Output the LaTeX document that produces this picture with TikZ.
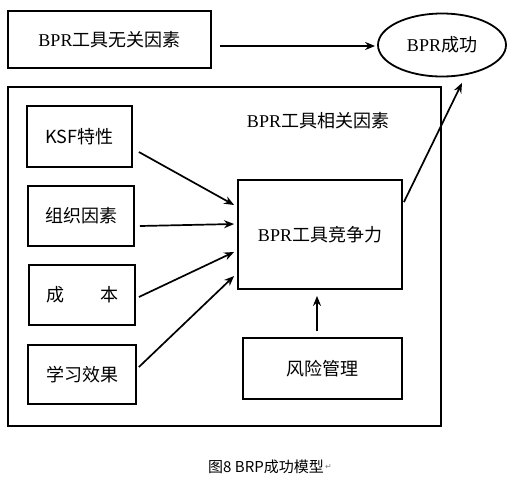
\documentclass[tikz,border=0pt]{standalone}
\usepackage{fontspec}
\setmainfont{Liberation Serif}
\newfontfamily\cjk{Noto Sans CJK SC}
\newfontfamily\symfont{DejaVu Sans}
\usetikzlibrary{positioning, arrows.meta, shapes.geometric}

\newcommand{\zh}[1]{{\cjk #1}}

\begin{document}
\begin{tikzpicture}[
        x=1pt, y=-1pt,
        box/.style={rectangle, draw, line width=1.8pt, inner sep=0pt, font=\fontsize{18}{20}\selectfont},
        goal/.style={ellipse, draw, line width=1.8pt, inner sep=0pt, font=\fontsize{18}{20}\selectfont},
        frame/.style={rectangle, draw, line width=1.6pt, inner sep=0pt},
        arr/.style={line width=1.7pt, -{Stealth[length=10pt,width=8pt]}},
    ]
    \useasboundingbox (0,0) rectangle (518,488);
    % TOP ROW
    \node[box, minimum width=203, minimum height=57] (free) at (109.5,39.5) {BPR\zh{工具无关因素}};
    \node[goal, minimum width=128, minimum height=63] (succ) at (442,45) {BPR\zh{成功}};
    % RELATED FACTORS
    \node[frame, minimum width=433, minimum height=339] (rel) at (224.5,256.5) {};
    \node[font=\fontsize{18}{20}\selectfont] (reltitle) at (318,121) {BPR\zh{工具相关因素}};
    \node[box, minimum width=105, minimum height=61] (ksf) at (79.5,136.5) {\zh{KSF特性}};
    \node[box, minimum width=106, minimum height=60] (org) at (81,216) {\zh{组织因素}};
    \node[box, minimum width=106, minimum height=60] (cost) at (82,295) {\zh{成\hspace{36pt}本}};
    \node[box, minimum width=108, minimum height=59] (learn) at (82,374.5) {\zh{学习效果}};
    \node[box, minimum width=164, minimum height=109] (comp) at (320,234.5) {BPR\zh{工具竞争力}};
    \node[box, minimum width=159, minimum height=61] (risk) at (322.5,368.5) {\zh{风险管理}};
    % ARROWS
    \draw[arr] ([shift={(8,6.5)}]free.east) -- ([shift={(-2,1)}]succ.west);
    \foreach \a/\sx/\sy/\ey in {ksf/6/15.5/-29.5, org/5/10/-10.5, cost/3/2/17.5, learn/2/-7.5/41.5}
        \draw[arr] ([shift={(\sx,\sy)}]\a.east) -- ([shift={(-3,\ey)}]comp.west);
    \draw[arr] ([shift={(-5.5,-6)}]risk.north) -- ([shift={(-3,6)}]comp.south);
    \draw[arr] ([shift={(1,23)}]comp.north east) -- ([shift={(20,5.5)}]succ.south);
    % CAPTION
    \node[inner sep=0pt, font=\fontsize{15}{17}\selectfont] (cap) at (266,467) {\zh{图8 BRP成功模型}};
    \node[right=1pt of cap, inner sep=0pt, font=\fontsize{8}{9}\selectfont\symfont, text=gray] (mark) {↵};
\end{tikzpicture}
\end{document}
